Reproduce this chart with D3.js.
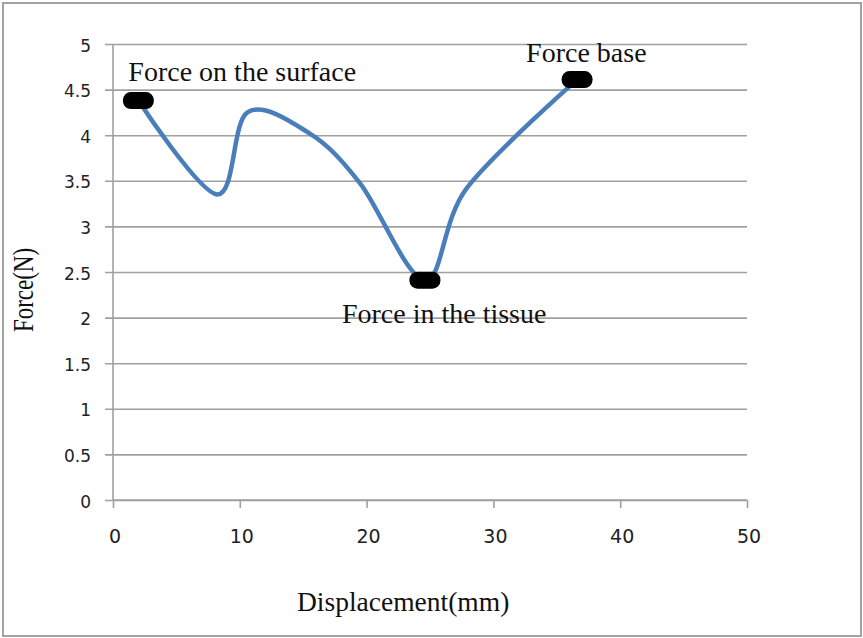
<!DOCTYPE html>
<html>
<head>
<meta charset="utf-8">
<script src="https://cdn.jsdelivr.net/npm/d3@7"></script>
<style>
  html, body { margin: 0; padding: 0; background: #fff; }
  svg { display: block; }
</style>
</head>
<body>
<svg id="chart" width="863" height="638"></svg>
<script>
// ---- data ----
const displacement = [2, 8.2, 10.6, 15.5, 19.5, 24.6, 27.9, 36.6];
const force        = [4.38, 3.35, 4.25, 4.02, 3.47, 2.41, 3.42, 4.61];
const markerIndex  = [0, 5, 7];
const markerLabels = ["Force on the surface", "Force in the tissue", "Force base"];
const xTicks = [0, 10, 20, 30, 40, 50];
const yTicks = [0, 0.5, 1, 1.5, 2, 2.5, 3, 3.5, 4, 4.5, 5];
const xTitle = "Displacement(mm)";
const yTitle = "Force(N)";

(function () {
// ---- layout ----
const svg = d3.select("#chart");
const padL = 113, padR = 747, padT = 44, padB = 500;

svg.append("rect")
  .attr("x", 3).attr("y", 3).attr("width", 858).attr("height", 633)
  .attr("fill", "#fff").attr("stroke", "#a3a3a3").attr("stroke-width", 2);

const x = d3.scaleLinear().domain([0, 50]).range([padL, padR]);
const y = d3.scaleLinear().domain([0, 5]).range([padB, padT]);

const gridColor = "#a0a0a0";

// horizontal gridlines + y ticks
const yAxis = d3.axisLeft(y).tickValues(yTicks).tickSize(-(padR - padL)).tickPadding(0).tickFormat(d3.format("~g"));
const gy = svg.append("g").attr("transform", `translate(${padL},0)`).call(yAxis);
gy.select(".domain").remove();
gy.selectAll(".tick line").attr("stroke", gridColor).attr("stroke-width", 1.6).attr("x1", -8);
gy.selectAll(".tick text")
  .attr("x", -22).attr("dy", "0.42em")
  .attr("fill", "#222")
  .style("font-family", "'DejaVu Sans', Verdana, sans-serif")
  .style("font-size", "17px");

// vertical axis line
svg.append("line")
  .attr("x1", padL).attr("x2", padL).attr("y1", padT).attr("y2", padB)
  .attr("stroke", gridColor).attr("stroke-width", 1.6);

// x axis
const xAxis = d3.axisBottom(x).tickValues(xTicks).tickSize(8).tickPadding(0).tickFormat(d3.format("d"));
const gx = svg.append("g").attr("transform", `translate(0,${padB})`).call(xAxis);
gx.select(".domain").attr("stroke", gridColor).attr("stroke-width", 1.6).attr("d", `M${padL},0H${padR}`);
gx.selectAll(".tick line").attr("stroke", gridColor).attr("stroke-width", 1.6);
gx.selectAll(".tick text")
  .attr("y", 43).attr("dy", 0).attr("dx", 1.5)
  .attr("fill", "#222")
  .style("font-family", "'DejaVu Sans', Verdana, sans-serif")
  .style("font-size", "19px");

// series line
const pts = displacement.map((d, i) => [d, force[i]]);
const line = d3.line()
  .x(d => x(d[0])).y(d => y(d[1]))
  .curve(d3.curveCardinal.tension(0));
svg.append("path")
  .attr("d", line(pts))
  .attr("fill", "none")
  .attr("stroke", "#4a7ebb")
  .attr("stroke-width", 4.5)
  .attr("stroke-linecap", "round");

// markers
const mw = 31, mh = 17;
svg.selectAll("rect.marker")
  .data(markerIndex)
  .enter().append("rect")
  .attr("class", "marker")
  .attr("x", i => x(displacement[i]) - mw / 2)
  .attr("y", i => y(force[i]) - mh / 2)
  .attr("width", mw).attr("height", mh)
  .attr("rx", 8).attr("ry", 8)
  .attr("fill", "#000");

// marker labels
const labelOffsets = [[-10, -19.5], [-83, 43], [-51, -18]];
svg.selectAll("text.mlabel")
  .data(markerIndex)
  .enter().append("text")
  .attr("class", "mlabel")
  .attr("x", (i, k) => x(displacement[i]) + labelOffsets[k][0])
  .attr("y", (i, k) => y(force[i]) + labelOffsets[k][1])
  .attr("fill", "#111")
  .style("font-family", "'Liberation Serif', 'Times New Roman', serif")
  .style("font-size", "28px")
  .text((i, k) => markerLabels[k]);

// axis titles
svg.append("text")
  .attr("x", 297).attr("y", 611)
  .attr("fill", "#111")
  .style("font-family", "'Liberation Serif', 'Times New Roman', serif")
  .style("font-size", "27.5px")
  .text(xTitle);

svg.append("text")
  .attr("transform", "translate(33,290) rotate(-90) scale(1,1.3)")
  .attr("text-anchor", "middle")
  .attr("fill", "#111")
  .style("font-family", "'Liberation Serif', 'Times New Roman', serif")
  .style("font-size", "23px")
  .text(yTitle);
})();
</script>
</body>
</html>
